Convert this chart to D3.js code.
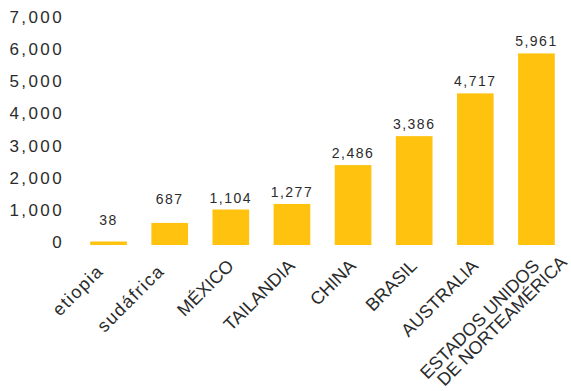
<!DOCTYPE html>
<html>
<head>
<meta charset="utf-8">
<script src="https://cdn.jsdelivr.net/npm/d3@7"></script>
<style>
  body { margin: 0; background: #fff; }
  .tick text { font-family: "Liberation Sans", Arial, sans-serif; }
</style>
</head>
<body>
<div id="chart"></div>
<script>
// data
const countries = [
  ["etiopia"], ["sudáfrica"], ["MÉXICO"], ["TAILANDIA"], ["CHINA"],
  ["BRASIL"], ["AUSTRALIA"], ["ESTADOS UNIDOS", "DE NORTEAMÉRICA"]
];
const values = [38, 687, 1104, 1277, 2486, 3386, 4717, 5961];
const yTicks = [0, 1000, 2000, 3000, 4000, 5000, 6000, 7000];

const width = 571, height = 391;
const barColor = "#FFC20E";
const textColor = "#2b2b2b";

var svg = d3.select("#chart").append("svg")
  .attr("width", width)
  .attr("height", height);

var keys = countries.map(d => d.join(" "));

var x = d3.scaleBand()
  .domain(keys)
  .range([78, 567])
  .paddingInner(0.4)
  .paddingOuter(0.2);

var y = d3.scaleLinear()
  .domain([0, 7000])
  .range([245, 20]);

// y axis, labels only
var yAxis = svg.append("g")
  .attr("transform", "translate(64,0)")
  .call(d3.axisLeft(y).tickValues(yTicks).tickFormat(d3.format(",")).tickSize(0).tickPadding(0));
yAxis.select(".domain").remove();
yAxis.selectAll("text")
  .attr("fill", textColor)
  .attr("dy", "0.15em")
  .style("font-size", "17px")
  .style("letter-spacing", "2.4px");

// bars (tiny values get a visible sliver)
svg.selectAll(".bar")
  .data(values)
  .enter().append("rect")
  .attr("class", "bar")
  .attr("x", (d, i) => x(keys[i]))
  .attr("width", x.bandwidth())
  .attr("y", d => Math.min(y(d), y(0) - 3.5))
  .attr("height", d => Math.max(y(0) - y(d), 3.5))
  .attr("fill", barColor);

// value labels
svg.selectAll(".val")
  .data(values)
  .enter().append("text")
  .attr("class", "val")
  .attr("x", (d, i) => x(keys[i]) + x.bandwidth() / 2)
  .attr("y", d => y(d) - (d < 1000 ? 19 : 7))
  .attr("text-anchor", "middle")
  .attr("fill", textColor)
  .style("font-family", "'Liberation Sans', Arial, sans-serif")
  .style("font-size", "14px")
  .style("letter-spacing", "1.5px")
  .text(d => d3.format(",")(d));

// category labels, rotated; lowercase ones are set a bit wider and lower
function isLower(d) { return d[0] === d[0].toLowerCase(); }

var lab = svg.selectAll(".cat")
  .data(countries)
  .enter().append("text")
  .attr("class", "cat")
  .attr("transform", (d, i) => {
    var cx = x(keys[i]) + x.bandwidth() / 2 + 4, cy = y(0) + 22;
    if (isLower(d)) { cx -= 8; cy += 5; }
    return "translate(" + cx + "," + cy + ") rotate(-45)";
  })
  .attr("text-anchor", "end")
  .attr("fill", textColor)
  .style("font-family", "'Liberation Sans', Arial, sans-serif")
  .style("font-size", "18px")
  .style("letter-spacing", d => isLower(d) ? "1.5px" : null);

lab.selectAll("tspan")
  .data(d => d)
  .enter().append("tspan")
  .attr("x", (d, i) => i * 22)
  .attr("dy", (d, i) => i ? "0.95em" : 0)
  .text(d => d);
</script>
</body>
</html>
